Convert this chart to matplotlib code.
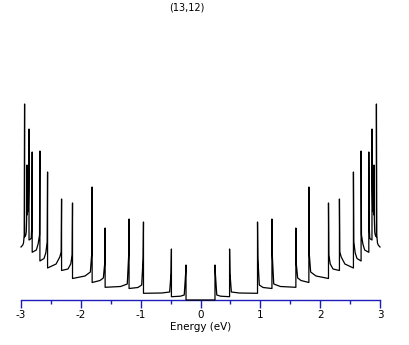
import numpy as np
import matplotlib
matplotlib.use('Agg')
import matplotlib.pyplot as plt

plt.rcParams['font.family'] = ['DejaVu Sans']
plt.rcParams['axes.unicode_minus'] = False

# van Hove singularities (positive side, mirrored for E < 0)
e_vhs = [0.242, 0.486, 0.953, 1.194, 1.594, 1.811, 2.139, 2.322, 2.556, 2.684, 2.813, 2.866, 2.900, 2.940]
peak_h = [35, 51, 78, 81, 72, 113, 97, 101, 128, 149, 148, 171, 135, 196]
tail_h = [27, 27, 42, 45, 37, 47, 45, 48, 58, 65, 75, 110, 80, 65]
knee_h = [5, 8, 15, 16, 22, 28, 36, 43, 47, 56, 62, 95, 68, 57]
mid_h = [3.8, 7.0, 12.5, 13.5, 19.5, 24, 31, 36, 41.5, 50, 61, 90, 65, 55]
floor_h = [3.3, 6.7, 11.5, 12.7, 17.5, 21.5, 29.5, 32, 39, 47.7, 60, 85, 63, 53]
e_max = 3.0

xs = [0.0]
ys = [0.0]
prev = 0.0
for i, e in enumerate(e_vhs):
    e_next = e_vhs[i + 1] if i + 1 < len(e_vhs) else e_max
    w = e_next - e
    dk = min(0.03, 0.3 * w)
    xs += [e, e, e + 0.006, e + dk, e + dk + 0.3 * (w - dk), e_next]
    ys += [prev, peak_h[i], tail_h[i], knee_h[i], mid_h[i], floor_h[i]]
    prev = floor_h[i]
xs = np.array(xs)
ys = np.array(ys)
energy = np.concatenate([-xs[::-1], xs[1:]])
dos = np.concatenate([ys[::-1], ys[1:]])

fig = plt.figure(figsize=(4.09, 3.45), dpi=100)
ax = fig.add_axes([21 / 409, 45 / 345, 359 / 409, 200 / 345])
ax.plot(energy, dos, color='black', lw=0.9, zorder=3, clip_on=False)
ax.set_xlim(-3, 3)
ax.set_ylim(0, 200)

blue = '#1c1cb8'
for s in ['top', 'left', 'right']:
    ax.spines[s].set_visible(False)
ax.spines['bottom'].set_color(blue)
ax.spines['bottom'].set_linewidth(1.0)
ax.set_yticks([])
ax.set_xticks([-3, -2, -1, 0, 1, 2, 3])
ax.set_xticks(np.arange(-2.5, 3, 1.0), minor=True)
ax.tick_params(axis='x', which='major', length=6, width=1, color=blue, pad=1.5, labelsize=7.5)
ax.tick_params(axis='x', which='minor', length=3.2, width=1, color=blue)
ax.set_xlabel('Energy (eV)', fontsize=7.5, labelpad=1.5)
fig.text(187 / 409, 1 - 7 / 345, '(13,12)', ha='center', va='center', fontsize=7)

fig.savefig('out.png', dpi=100)
